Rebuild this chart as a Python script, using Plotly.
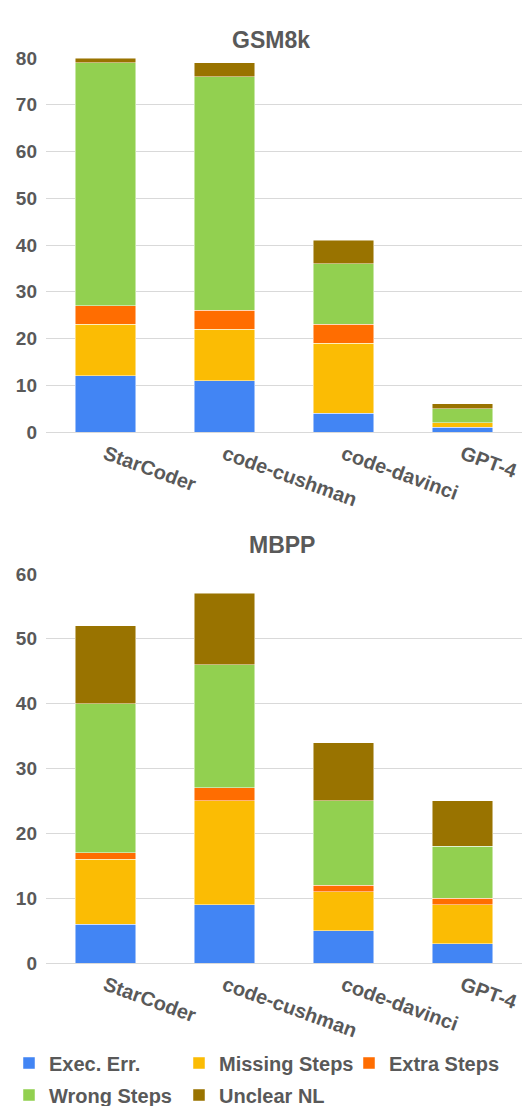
import plotly.graph_objects as go

models = ["StarCoder", "code-cushman", "code-davinci", "GPT-4"]
series = ["Exec. Err.", "Missing Steps", "Extra Steps", "Wrong Steps", "Unclear NL"]
colors = ["#4285F4", "#FBBC04", "#FF6D01", "#92D050", "#997300"]

gsm8k = {
    "Exec. Err.":    [12, 11, 4, 1],
    "Missing Steps": [11, 11, 15, 1],
    "Extra Steps":   [4, 4, 4, 0],
    "Wrong Steps":   [52, 50, 13, 3],
    "Unclear NL":    [1, 3, 5, 1],
}
mbpp = {
    "Exec. Err.":    [6, 9, 5, 3],
    "Missing Steps": [10, 16, 6, 6],
    "Extra Steps":   [1, 2, 1, 1],
    "Wrong Steps":   [23, 19, 13, 8],
    "Unclear NL":    [12, 11, 9, 7],
}

W, H = 522, 1106
L = 46
PW = W - L
FONT = "Liberation Sans, Arial, sans-serif"
GRAY = "#595959"

# legend placement (pixel text-start x, row center y) for each series
leg_pos = [(49, 1063), (219, 1063), (389, 1063), (49, 1095), (219, 1095)]
leg_names = ["legend", "legend2", "legend3", "legend4", "legend5"]

fig = go.Figure()
for i, s in enumerate(series):
    mk = dict(color=colors[i], line=dict(color="rgba(255,255,255,0.6)", width=0.8))
    fig.add_trace(go.Bar(x=models, y=gsm8k[s], name=s, marker=mk,
                         xaxis="x", yaxis="y", legend=leg_names[i], showlegend=True))
    fig.add_trace(go.Bar(x=models, y=mbpp[s], name=s, marker=mk,
                         xaxis="x2", yaxis="y2", showlegend=False))

def d(px_bottom, px_top):
    return [1 - px_bottom / H, 1 - px_top / H]

ytickfont = dict(family=FONT, size=19, color=GRAY, weight="bold")
xtickfont = dict(family=FONT, size=20, color=GRAY, weight="bold")
xcommon = dict(tickangle=20, tickfont=xtickfont, showgrid=False, showline=False, ticks="",
               domain=[0, 1], ticklabelstandoff=6)
ycommon = dict(tickfont=ytickfont, showgrid=True, gridcolor="#d9d9d9", gridwidth=1, zeroline=True,
               zerolinecolor="#d9d9d9", zerolinewidth=1, showline=False, ticks="", ticklabelstandoff=8)

legfont = dict(family=FONT, size=20, color=GRAY, weight="bold")
legends = {}
for name, (tx, cy) in zip(leg_names, leg_pos):
    legends[name] = dict(orientation="h", x=(tx - 40 - L) / PW, xanchor="left",
                         y=1 - cy / H, yanchor="middle", font=legfont,
                         bgcolor="rgba(0,0,0,0)", borderwidth=0)

fig.update_layout(
    barmode="stack",
    bargap=0.495,
    width=W, height=H,
    margin=dict(l=L, r=0, t=0, b=0, autoexpand=False),
    plot_bgcolor="white", paper_bgcolor="white",
    xaxis=dict(anchor="y", **xcommon),
    yaxis=dict(anchor="x", domain=d(432, 58), range=[0, 80], dtick=10, **ycommon),
    xaxis2=dict(anchor="y2", **xcommon),
    yaxis2=dict(anchor="x2", domain=d(963, 574), range=[0, 60], dtick=10, **ycommon),
    annotations=[
        dict(text="<b>GSM8k</b>", x=(271 - L) / PW, y=1 - 25 / H, xref="paper", yref="paper",
             showarrow=False, font=dict(family=FONT, size=23, color=GRAY)),
        dict(text="<b>MBPP</b>", x=(282 - L) / PW, y=1 - 545 / H, xref="paper", yref="paper",
             showarrow=False, font=dict(family=FONT, size=23, color=GRAY)),
    ],
    **legends,
)

fig.write_html("out.html", config={"displayModeBar": False},
               post_script="document.body.style.margin='0';")
